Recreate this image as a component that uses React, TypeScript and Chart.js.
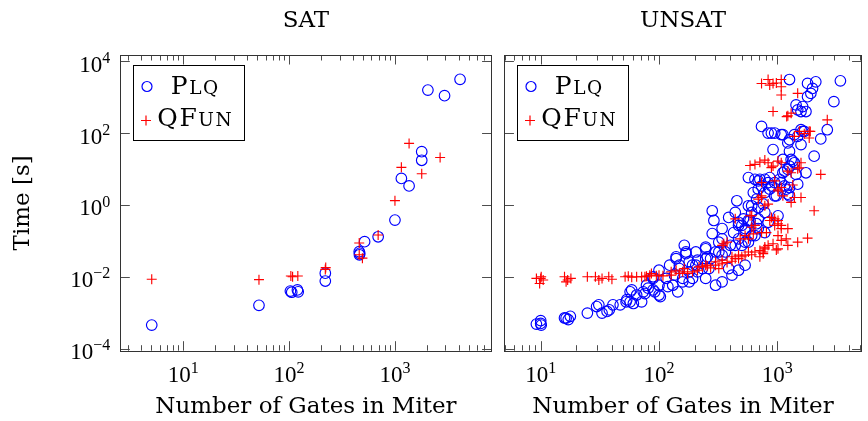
import React, { useEffect, useRef } from "react";
import { Chart, registerables } from "chart.js";

Chart.register(...registerables);

// ---------------- data ----------------
const panelTitles = ["SAT", "UNSAT"];
const seriesLabels = ["Plq", "QFun"]; // lower-case letters are drawn as small capitals
const xAxisLabel = "Number of Gates in Miter";
const yAxisLabel = "Time [s]";
const xTickExponents = [1, 2, 3];
const yTickExponents = [-4, -2, 0, 2, 4];
const satXRange = [2.55, 8170];
const unsatXRange = [4.94, 5150];
const yRange = [8.7e-5, 15100];

// SAT – Plq
const satPlqGates = [5.05, 52, 103, 106, 120, 122, 220, 220, 460, 462, 465, 517, 694, 1000, 1150, 1360, 1790, 1790, 2047, 2940, 4120];
const satPlqTime = [0.00045, 0.0016, 0.004, 0.0037, 0.0043, 0.0038, 0.0126, 0.0076, 0.05, 0.041, 0.045, 0.095, 0.13, 0.38, 5.5, 3.4, 30.5, 17.6, 1590, 1110, 3170];

// SAT – QFun
const satQfunGates = [5.05, 52, 104, 108, 121, 220, 222, 460, 460, 493, 694, 1000, 1150, 1360, 1790, 2670];
const satQfunTime = [0.0085, 0.0083, 0.0105, 0.01, 0.0105, 0.016, 0.018, 0.087, 0.041, 0.033, 0.146, 1.32, 11.2, 52, 7.4, 21];

// UNSAT – Plq
const unsatPlqGates = [
  9.2, 10, 10.1, 10, 15.9, 17.1, 17.8, 16.4, 24.8, 29.7, 31, 33, 36.4, 40.8, 38, 52.7, 53.4, 58.8, 60.7, 64.7,
  73.6, 80.9, 89.1, 92, 102.6, 118.8, 135, 139.5, 144, 158.5, 163.6, 169, 180, 192, 204.8, 211.4, 248, 264, 273, 281.8,
  291, 281.8, 300.5, 320.4, 341.5, 364, 388, 400.6, 427, 440.9, 455, 470, 501, 517, 534, 569.6, 607, 626.8, 647, 668,
  690, 735.5, 784, 835.6, 862.6, 891, 950, 981, 1013, 1045, 1079, 1114, 1150, 1227, 1267, 1308, 1394, 1486, 1745, 920,
  1114, 1227, 1267, 1394, 1636, 1585, 2047, 2328, 2643, 735.5, 835.6, 950, 1079, 1440, 1486, 1585, 1636, 1745, 1801, 1920,
  1983, 2113, 1801, 3005, 3412, 1267, 1585, 341.5, 388, 569.6, 647, 690, 204.8, 232.8, 180, 148.6, 115, 100, 78.4, 71.3,
  57, 47, 248, 341.5, 440.9, 501, 534, 588, 607, 712, 784, 862.6, 950, 1150, 1267, 1690, 57, 76, 89.1, 139.5,
  169, 248, 211.4, 256, 180, 148.6, 123, 100, 89, 100, 130.6, 158.5, 192, 248, 300.5, 341.5, 413.6, 470, 534, 320,
  470, 534, 607, 569.6, 668, 690, 784, 760, 891, 1486, 1350, 1114, 1267, 1440, 569.6, 690, 1188, 1227,
  690, 784, 470, 835.6, 1267,
];
const unsatPlqTime = [
  0.00048, 0.0006, 0.00045, 0.0005, 0.00071, 0.00064, 0.00079, 0.0007, 0.00097, 0.00148, 0.00165, 0.00097, 0.00108, 0.00165, 0.0012, 0.002, 0.0023, 0.0043, 0.0018, 0.0031,
  0.0038, 0.0048, 0.0043, 0.0038, 0.0028, 0.0053, 0.0111, 0.032, 0.0038, 0.009, 0.075, 0.049, 0.0072, 0.021, 0.049, 0.0137, 0.067, 0.0169, 0.032, 0.69,
  0.37, 0.16, 0.049, 0.049, 0.114, 0.049, 0.0169, 0.075, 0.17, 0.62, 1.31, 0.114, 0.27, 0.41, 0.19, 0.37, 0.95, 2.22, 5.2, 1.46,
  2.75, 3.4, 2.22, 4.2, 5.8, 3.4, 4.2, 1.8, 0.5, 5.2, 4.2, 7.9, 8.8, 9.8, 3.06, 18.5, 15, 3.8, 7.9, 35,
  90.8, 53.5, 31.5, 90.8, 112.5, 48.1, 22.9, 69.2, 125, 154.5, 101, 101, 90.8, 614, 447, 402, 552, 402, 1042, 1288,
  1770, 2705, 2432, 758, 2885, 3135, 125, 0.22, 0.45, 0.95, 0.14, 0.22, 0.021, 0.0169, 0.0137, 0.0169, 0.009, 0.0058, 0.0058, 0.002,
  0.002, 0.00165, 0.032, 0.04, 0.075, 0.075, 0.092, 0.37, 0.62, 5.2, 5.2, 2.75, 1.8, 3.4, 66, 112.5, 0.0038, 0.0034, 0.01, 0.036,
  0.044, 0.06, 0.029, 0.036, 0.026, 0.021, 0.021, 0.0152, 0.009, 0.0031, 0.0058, 0.0072, 0.009, 0.009, 0.0058, 0.0072, 0.0111, 0.0152, 0.021, 0.092,
  0.27, 0.22, 0.14, 0.092, 0.3, 0.41, 0.17, 1.06, 101, 81.8, 16.7, 18.5, 12.1, 7.1, 5.8, 4.7, 2.75, 2.0,
  0.85, 0.62, 0.33, 0.33, 1.8,
];

// UNSAT – QFun
const unsatQfunGates = [
  9.2, 10.1, 9.8, 10.5, 10, 15.9, 16.9, 18, 16.4, 24.8, 29, 31, 33, 37.6, 40, 51.7, 55, 58.8, 64.7, 71.3,
  78.4, 83.5, 86.3, 95, 108, 76, 100, 126.7, 139.5, 148.6, 158.5, 174.5, 192, 211.4, 232.8, 256, 273, 300.5, 320, 341.5,
  376, 413.6, 440.9, 470, 501, 534, 607, 647, 712, 784, 835.6, 920, 1013, 1079, 1227, 1486, 1801, 126.7, 163.6, 218,
  248, 300.5, 341.5, 413.6, 470, 569.6, 712, 760, 784, 352.5, 376, 341.5, 440.9, 607, 647, 569.6, 626.8, 735.5, 485.3, 534,
  607, 690, 735.5, 784, 835.6, 891, 950, 1013, 1079, 1114, 1227, 1308, 1394, 1585, 2047, 809, 1079, 1188, 950, 588,
  647, 712, 784, 835.6, 920, 1013, 1079, 1227, 1308, 1535, 2328, 950, 1013, 1394, 1535, 1690, 1860, 1860, 2643, 1227,
  1308, 920, 1486, 735.5, 835.6, 920, 981, 1079, 1079, 1079, 862.6, 891, 1585, 1486, 735.5, 1350, 735.5, 588, 862.6, 1013,
  1013, 1079, 1013, 981, 760, 1200, 1900,
];
const unsatQfunTime = [
  0.009, 0.01, 0.0065, 0.0081, 0.009, 0.01, 0.0081, 0.009, 0.0072, 0.01, 0.01, 0.0081, 0.009, 0.01, 0.0085, 0.01, 0.0104, 0.0097, 0.01, 0.01,
  0.0104, 0.0111, 0.0123, 0.0106, 0.0106, 0.01, 0.0111, 0.0137, 0.0152, 0.0123, 0.0137, 0.0123, 0.0137, 0.0152, 0.0188, 0.02, 0.0177, 0.021, 0.0169, 0.023,
  0.025, 0.027, 0.032, 0.032, 0.036, 0.04, 0.041, 0.049, 0.054, 0.067, 0.075, 0.083, 0.06, 0.103, 0.075, 0.092, 0.119, 0.0111, 0.0169, 0.0188,
  0.021, 0.026, 0.029, 0.036, 0.04, 0.049, 0.036, 0.049, 0.06, 0.083, 0.092, 0.075, 0.41, 0.5, 0.27, 0.114, 0.157, 0.17, 0.114, 0.14,
  0.24, 1.46, 1.8, 0.95, 1.06, 0.45, 0.27, 2.47, 3.06, 1.8, 0.22, 1.18, 1.62, 1.62, 0.69, 0.17, 0.22, 0.114, 0.41, 12.6,
  13.5, 15.6, 17.8, 15, 12.1, 16.7, 15, 8.8, 7.9, 10.9, 7.1, 4.7, 2.75, 81.8, 112.5, 96.9, 112.5, 73.6, 236, 305,
  361, 402, 1288, 2432, 3135, 2432, 2500, 3135, 1968, 1158, 2188, 11, 15, 10.2, 4.2, 3.6, 1.62, 0.5, 0.37, 0.3,
  0.37, 0.27, 0.14, 0.056, 0.044, 290, 112,
];

// ---------------- styling helpers ----------------
const SERIF = '"DejaVu Serif", serif';
const NUM_FONT = '"Liberation Serif", "DejaVu Serif", serif';
const PLQ_COLOR = "#0000ff";
const QFUN_COLOR = "#ff0000";

function zip(xs: number[], ys: number[]) {
  return xs.map((x, i) => ({ x, y: ys[i] }));
}

function expText(e: number) {
  return e < 0 ? "\u2212" + Math.abs(e) : String(e);
}

function drawPower(ctx: CanvasRenderingContext2D, e: number, anchorX: number, baseY: number, align: "center" | "right") {
  ctx.font = `23px ${NUM_FONT}`;
  const wb = ctx.measureText("10").width;
  ctx.font = `16px ${NUM_FONT}`;
  const et = expText(e);
  const we = ctx.measureText(et).width;
  const total = wb + we;
  const start = align === "center" ? anchorX - total / 2 : anchorX - total;
  ctx.textAlign = "left";
  ctx.textBaseline = "alphabetic";
  ctx.font = `23px ${NUM_FONT}`;
  ctx.fillText("10", start, baseY);
  ctx.font = `16px ${NUM_FONT}`;
  ctx.fillText(et, start + wb, baseY - 8.8);
}

function drawSmallCaps(ctx: CanvasRenderingContext2D, text: string, cx: number, baseY: number) {
  const big = 25;
  const small = 18.5;
  const spacing = 1.6;
  const parts = [...text].map((ch) => ({ ch: ch.toUpperCase(), size: ch === ch.toUpperCase() ? big : small }));
  const widths = parts.map((p) => {
    ctx.font = `${p.size}px ${SERIF}`;
    return ctx.measureText(p.ch).width;
  });
  const total = widths.reduce((a, b) => a + b, 0) + spacing * (parts.length - 1);
  let x = cx - total / 2;
  ctx.textAlign = "left";
  ctx.textBaseline = "alphabetic";
  parts.forEach((p, i) => {
    ctx.font = `${p.size}px ${SERIF}`;
    ctx.fillText(p.ch, x, baseY);
    x += widths[i] + spacing;
  });
}

const pgfFrame = {
  id: "pgfFrame",
  afterDatasetsDraw(chart: any, _args: any, opts: any) {
    const { ctx, chartArea: a } = chart;
    const xs = chart.scales.x;
    const ys = chart.scales.y;
    ctx.save();
    // inward ticks
    ctx.strokeStyle = "#4d4d4d";
    ctx.lineWidth = 1;
    ctx.beginPath();
    const e0 = Math.floor(Math.log10(xs.min));
    const e1 = Math.ceil(Math.log10(xs.max));
    for (let e = e0; e <= e1; e++) {
      for (let m = 1; m <= 9; m++) {
        const v = m * Math.pow(10, e);
        if (v < xs.min || v > xs.max) continue;
        const px = Math.round(xs.getPixelForValue(v)) + 0.5;
        const len = m === 1 ? 9.5 : 5.5;
        ctx.moveTo(px, a.bottom);
        ctx.lineTo(px, a.bottom - len);
        ctx.moveTo(px, a.top);
        ctx.lineTo(px, a.top + len);
      }
    }
    for (const e of yTickExponents) {
      const py = Math.round(ys.getPixelForValue(Math.pow(10, e))) + 0.5;
      ctx.moveTo(a.left, py);
      ctx.lineTo(a.left + 9.5, py);
      ctx.moveTo(a.right, py);
      ctx.lineTo(a.right - 9.5, py);
    }
    ctx.stroke();
    // frame
    ctx.strokeStyle = "#333";
    ctx.strokeRect(Math.round(a.left) + 0.5, Math.round(a.top) + 0.5, Math.round(a.right - a.left), Math.round(a.bottom - a.top));

    // legend
    const bx = Math.round(a.left + 12.4) + 0.5;
    const by = Math.round(a.top + 10) + 0.5;
    const bw = 111;
    const bh = 75;
    ctx.fillStyle = "#fff";
    ctx.fillRect(bx, by, bw, bh);
    ctx.strokeStyle = "#000";
    ctx.lineWidth = 1;
    ctx.strokeRect(bx, by, bw, bh);
    const ds = chart.data.datasets;
    // row 1: circle
    ctx.strokeStyle = ds[0].borderColor;
    ctx.lineWidth = 1.2;
    ctx.beginPath();
    ctx.arc(bx + 13.5, by + 21, 5, 0, Math.PI * 2);
    ctx.stroke();
    // row 2: plus
    ctx.strokeStyle = ds[1].borderColor;
    ctx.beginPath();
    ctx.moveTo(bx + 12.5 - 5, by + 55);
    ctx.lineTo(bx + 12.5 + 5, by + 55);
    ctx.moveTo(bx + 12.5, by + 50);
    ctx.lineTo(bx + 12.5, by + 60);
    ctx.stroke();
    ctx.fillStyle = "#000";
    drawSmallCaps(ctx, ds[0].label, bx + 61, by + 28.3);
    drawSmallCaps(ctx, ds[1].label, bx + 61, by + 60);
    ctx.restore();
  },
  afterDraw(chart: any, _args: any, opts: any) {
    const { ctx, chartArea: a } = chart;
    const xs = chart.scales.x;
    const ys = chart.scales.y;
    ctx.save();
    ctx.fillStyle = "#000";
    for (const e of xTickExponents) {
      const v = Math.pow(10, e);
      if (v < xs.min || v > xs.max) continue;
      drawPower(ctx, e, xs.getPixelForValue(v), a.bottom + 31, "center");
    }
    if (opts.yLabels) {
      for (const e of yTickExponents) {
        const py = ys.getPixelForValue(Math.pow(10, e));
        drawPower(ctx, e, a.left - 10, py + 10.5, "right");
      }
    }
    ctx.restore();
  },
};

function makeConfig(title: string, xRange: number[], plq: any[], qfun: any[], showY: boolean, padRight: number, yWidth: number): any {
  return {
    type: "scatter",
    data: {
      datasets: [
        {
          label: seriesLabels[0],
          data: plq,
          pointStyle: "circle",
          pointRadius: 5.3,
          borderColor: PLQ_COLOR,
          backgroundColor: "rgba(0,0,0,0)",
          borderWidth: 1.15,
          order: 1,
        },
        {
          label: seriesLabels[1],
          data: qfun,
          pointStyle: "cross",
          pointRadius: 5,
          borderColor: QFUN_COLOR,
          backgroundColor: QFUN_COLOR,
          borderWidth: 1.15,
          order: 0,
        },
      ],
    },
    options: {
      responsive: false,
      animation: false,
      events: [],
      layout: { padding: { left: 0, right: padRight, top: 0, bottom: 0 } },
      plugins: {
        legend: { display: false },
        tooltip: { enabled: false },
        title: {
          display: true,
          text: title,
          fullSize: false,
          color: "#000",
          font: { family: SERIF, size: 23, weight: "normal", lineHeight: 1.2 },
          padding: { top: 7.5, bottom: 19.9 },
        },
        pgfFrame: { yLabels: showY },
      },
      scales: {
        x: {
          type: "logarithmic",
          position: "bottom",
          min: xRange[0],
          max: xRange[1],
          grid: { display: false },
          border: { display: false },
          ticks: { display: false },
          title: {
            display: true,
            text: xAxisLabel,
            color: "#000",
            font: { family: SERIF, size: 23, weight: "normal", lineHeight: 1.2 },
            padding: { top: 0, bottom: 0 },
          },
          afterFit: (s: any) => {
            s.height = 70.3;
          },
        },
        y: {
          type: "logarithmic",
          position: "left",
          min: yRange[0],
          max: yRange[1],
          grid: { display: false },
          border: { display: false },
          ticks: { display: false },
          title: {
            display: showY,
            text: yAxisLabel,
            color: "#000",
            font: { family: SERIF, size: 23, weight: "normal", lineHeight: 1.2 },
            padding: { top: 9.5, bottom: 0 },
          },
          afterFit: (s: any) => {
            s.width = yWidth;
          },
        },
      },
    },
    plugins: [pgfFrame],
  };
}

function Panel(props: { config: any; left: number; width: number }) {
  const ref = useRef<HTMLCanvasElement | null>(null);
  useEffect(() => {
    if (!ref.current) return;
    const chart = new Chart(ref.current, props.config);
    return () => chart.destroy();
  }, []);
  return (
    <canvas
      ref={ref}
      width={props.width}
      height={421}
      style={{ position: "absolute", left: props.left, top: 0, width: props.width, height: 421 }}
    />
  );
}

export default function App() {
  const satCfg = makeConfig(panelTitles[0], satXRange, zip(satPlqGates, satPlqTime), zip(satQfunGates, satQfunTime), true, 5.3, 120.3);
  const unsatCfg = makeConfig(panelTitles[1], unsatXRange, zip(unsatPlqGates, unsatPlqTime), zip(unsatQfunGates, unsatQfunTime), false, 4, 4.7);
  return (
    <div style={{ position: "absolute", left: 0, top: 0, width: 868, height: 421, background: "#fff", overflow: "hidden" }}>
      <Panel config={satCfg} left={0} width={498} />
      <Panel config={unsatCfg} left={498} width={370} />
    </div>
  );
}
